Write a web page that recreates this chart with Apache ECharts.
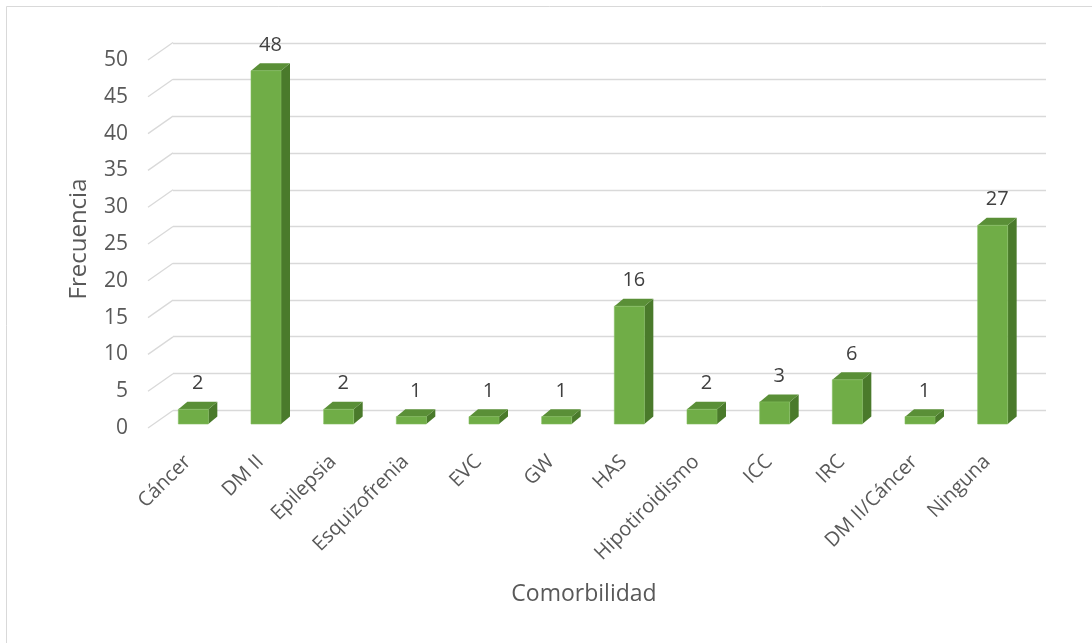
<!DOCTYPE html>
<html><head><meta charset="utf-8">
<script src="https://cdn.jsdelivr.net/npm/echarts@6/dist/echarts.min.js"></script>
<style>html,body{margin:0;padding:0;background:#fff}#c{width:1092px;height:643px}</style>
</head><body><div id="c"></div>
<script>
const categories = ['Cáncer','DM II','Epilepsia','Esquizofrenia','EVC','GW','HAS','Hipotiroidismo','ICC','IRC','DM II/Cáncer','Ninguna'];
const values = [2,48,2,1,1,1,16,2,3,6,1,27];
const yTicks = [0,5,10,15,20,25,30,35,40,45,50];
const yName = 'Frecuencia';
const xName = 'Comorbilidad';

const FONT = '"Open Sans", sans-serif';
const TXT = '#595959';
const chart = echarts.init(document.getElementById('c'), null, {renderer:'canvas'});

const W = 30, DX = 9, DY = -7.5;
function barItem(params, api){
  const x = api.value(0), y = api.value(1);
  const b = api.coord([x,0]), t = api.coord([x,y]);
  const l = b[0]-W/2, r = b[0]+W/2, bt = b[1], tp = t[1];
  return {type:'group', children:[
    {type:'polygon', shape:{points:[[r,tp],[r+DX,tp+DY],[r+DX,bt+DY],[r,bt]]}, style:{fill:'#4a7a2b'}},
    {type:'polygon', shape:{points:[[l,tp],[l+DX,tp+DY],[r+DX,tp+DY],[r,tp]]}, style:{fill:'#5a8f37'}},
    {type:'rect', shape:{x:l,y:tp,width:W,height:bt-tp}, style:{fill:'#70ad47', stroke:'#85bd60', lineWidth:0.6}},
    {type:'text', style:{text:String(y), x:b[0]+DX/2, y:tp+DY-8, align:'center', verticalAlign:'bottom', font:'20px '+FONT, fill:'#404040'}}
  ]};
}
function diagItem(params, api){
  const v = api.value(0);
  const p = api.coord([0, v]);
  return {type:'line', shape:{x1:p[0], y1:p[1], x2:p[0]+25, y2:p[1]-17.5}, style:{stroke:'#d9d9d9', lineWidth:1.3}};
}

chart.setOption({
  animation:false,
  backgroundColor:'#fff',
  graphic:[{type:'rect', shape:{x:6.5,y:6.5,width:1200,height:800}, style:{fill:'none', stroke:'#d9d9d9', lineWidth:1}},
    {type:'text', x:79, y:239, rotation:Math.PI/2, style:{text:yName, font:'24px '+FONT, fill:TXT, align:'center', verticalAlign:'middle'}},
    {type:'text', x:584, y:594, style:{text:xName, font:'23px '+FONT, fill:TXT, align:'center', verticalAlign:'middle'}}
  ],
  grid:[
    {left:173, top:43, width:873, height:367},
    {left:148, top:60, width:873, height:368},
    {left:157, top:56, width:872, height:368}
  ],
  xAxis:[
    {gridIndex:0, type:'category', data:categories, show:false},
    {gridIndex:1, type:'value', min:0, max:1, show:false},
    {gridIndex:2, type:'category', data:categories, axisLine:{show:false}, axisTick:{show:false},
     axisLabel:{rotate:45, interval:0, margin:29, padding:[0,8,0,0], fontFamily:FONT, fontSize:20, color:TXT}}
  ],
  yAxis:[
    {gridIndex:0, type:'value', min:0, max:50, interval:5, axisLabel:{show:false}, axisLine:{show:false}, axisTick:{show:false},
     splitLine:{show:true, lineStyle:{color:'#d9d9d9', width:1.3}}},
    {gridIndex:1, type:'value', min:0, max:50, interval:5, axisLine:{show:false}, axisTick:{show:false}, splitLine:{show:false},
     axisLabel:{fontFamily:FONT, fontSize:21, color:TXT, margin:20}},
    {gridIndex:2, type:'value', min:0, max:50, show:false}
  ],
  series:[
    {type:'custom', xAxisIndex:1, yAxisIndex:1, renderItem:diagItem, data:yTicks.map(v=>[v]), silent:true, z:1},
    {type:'custom', xAxisIndex:2, yAxisIndex:2, renderItem:barItem, data:values.map((v,i)=>[i,v]), z:5}
  ]
});
</script></body></html>
